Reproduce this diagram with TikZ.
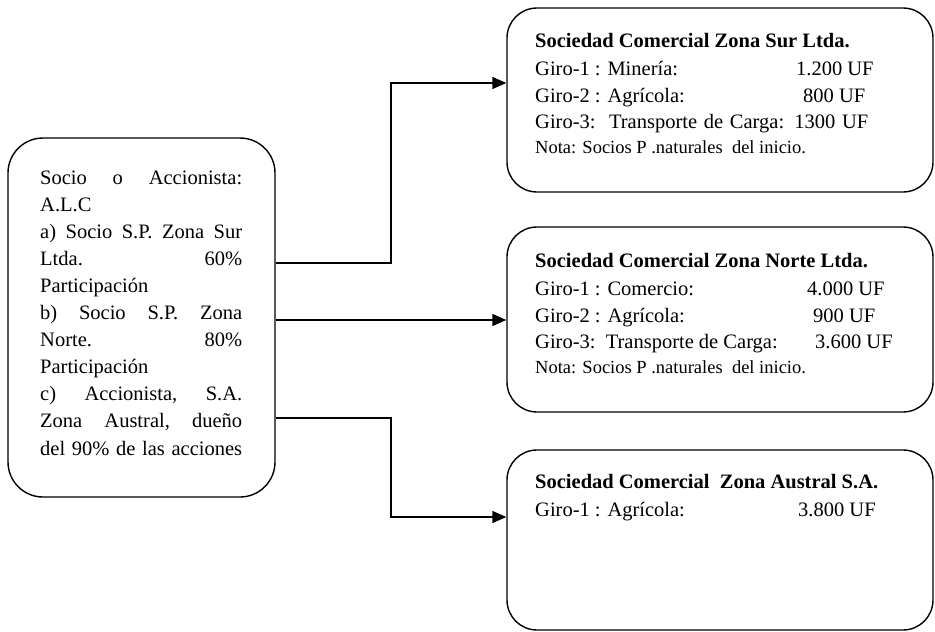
\documentclass[tikz,border=0pt]{standalone}
\usepackage{fontspec}
\setmainfont{Liberation Serif}
\usetikzlibrary{arrows.meta}
\newcommand{\jline}[1]{\leavevmode\hbox to 202pt{#1}}
\begin{document}
\begin{tikzpicture}[x=1pt,y=-1pt,
  box/.style={draw, line width=1.4pt, rounded corners=30pt, inner sep=0pt},
  txt/.style={anchor=base west, inner sep=0pt, font=\fontsize{20.5}{27}\selectfont},
  ltxt/.style={anchor=base west, inner sep=0pt, text width=202pt, align=left, font=\fontsize{20.5}{27.1}\selectfont},
  nota/.style={anchor=base west, inner sep=0pt, font=\fontsize{18.5}{20}\selectfont},
  conn/.style={line width=1.4pt},
  arr/.style={conn, -{Triangle[length=14pt,width=12pt]}}]
\useasboundingbox (0,0) rectangle (935,632);
% boxes
\node[box, rounded corners=35pt, minimum width=267pt, minimum height=359pt] (L) at (141.5,317.5) {};
\node[box, minimum width=426pt, minimum height=184pt] (A) at (720,100) {};
\node[box, minimum width=426pt, minimum height=185pt] (B) at (720,319.5) {};
\node[box, minimum width=426pt, minimum height=180pt] (C) at (720,540) {};
% left text
\node[ltxt] (Lt) at (40,184) {%
\jline{Socio\hfill o\hfill Accionista:}\\
A.L.C\\
\jline{a)\hfill Socio\hfill S.P.\hfill Zona\hfill Sur}\\
\jline{Ltda.\hfill 60\%}\\
Participación\\
\jline{b)\hfill Socio\hfill S.P.\hfill Zona}\\
\jline{Norte.\hfill 80\%}\\
Participación\\
\jline{c)\hfill Accionista,\hfill S.A.}\\
\jline{Zona\hfill Austral,\hfill dueño}\\
\jline{del\hfill 90\%\hfill de\hfill las\hfill acciones}};
% box A text
\node[txt] (A1) at (535,47) {\textbf{Sociedad Comercial Zona Sur Ltda.}};
\node[txt] (A2) at (535,75) {\makebox[261pt][l]{Giro-1 : Minería:}1.200 UF};
\node[txt] (A3) at (535,102) {\makebox[268pt][l]{Giro-2 : Agrícola:}800 UF};
\node[txt] (A4) at (535,128) {\makebox[333pt][s]{Giro-3:\ \ Transporte de Carga: 1300 UF}};
\node[nota] (A5) at (535,153) {Nota: Socios P .naturales\ \ del inicio.};
% box B text
\node[txt] (B1) at (535,267) {\textbf{Sociedad Comercial Zona Norte Ltda.}};
\node[txt] (B2) at (535,295) {\makebox[272pt][l]{Giro-1 : Comercio:}4.000 UF};
\node[txt] (B3) at (535,322) {\makebox[278pt][l]{Giro-2 : Agrícola:}900 UF};
\node[txt] (B4) at (535,348) {\makebox[280pt][l]{Giro-3:\ \ Transporte de Carga:}3.600 UF};
\node[nota] (B5) at (535,373) {Nota: Socios P .naturales\ \ del inicio.};
% box C text
\node[txt] (C1) at (535,488) {\textbf{Sociedad Comercial\ \ Zona Austral S.A.}};
\node[txt] (C2) at (535,516) {\makebox[263pt][l]{Giro-1 : Agrícola:}3.800 UF};
% connectors
\coordinate (j1) at (391,263);
\coordinate (t1) at (391,83);
\coordinate (j2) at (391,320);
\coordinate (j3) at (391,418);
\coordinate (t3) at (391,517);
\draw[arr] (L.east |- j1) -- (j1) -- (t1) -- (A.west |- t1);
\draw[arr] (L.east |- j2) -- (B.west |- j2);
\draw[arr] (L.east |- j3) -- (j3) -- (t3) -- (C.west |- t3);
\end{tikzpicture}
\end{document}
